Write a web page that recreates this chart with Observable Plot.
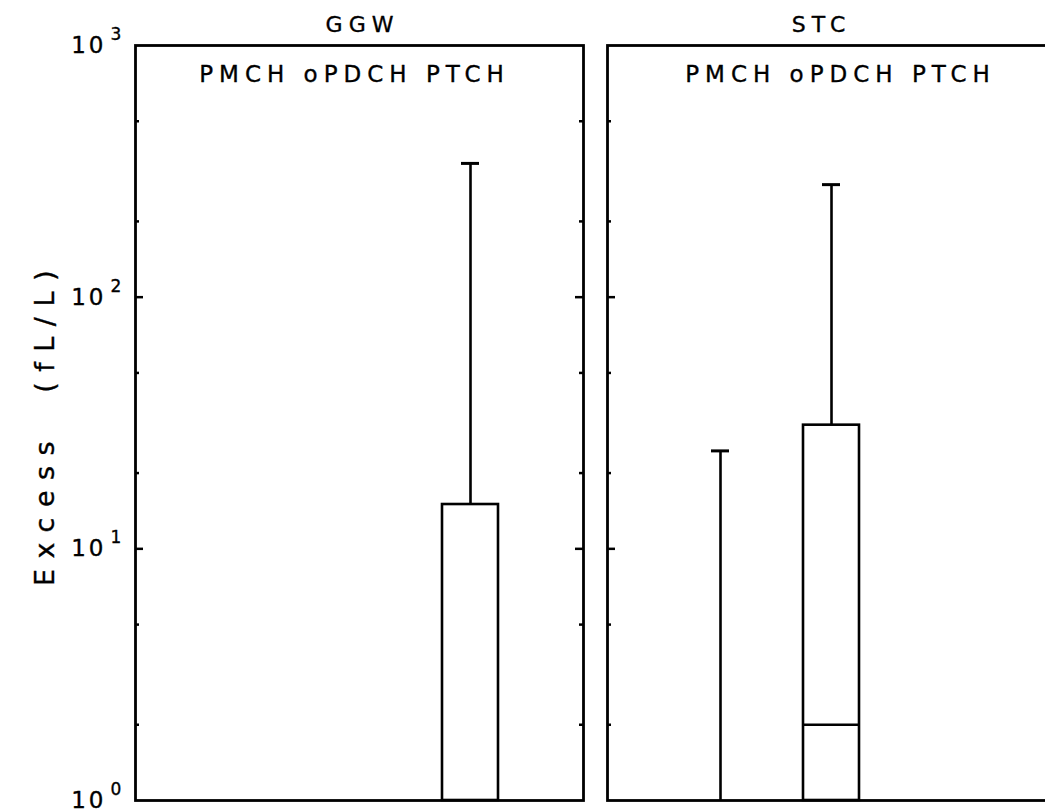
<!DOCTYPE html>
<html>
<head>
<meta charset="utf-8">
<script src="https://cdn.jsdelivr.net/npm/d3@7"></script>
<script src="https://cdn.jsdelivr.net/npm/@observablehq/plot@0.6"></script>
<style>
  html, body { margin: 0; padding: 0; background: #fff; overflow: hidden; }
</style>
</head>
<body>
<div id="chart"></div>
<script>
// ---- data ----
const sites = ["GGW", "STC"];
const species = ["PMCH", "oPDCH", "PTCH"];
const speciesLabel = "PMCH oPDCH PTCH";
const yLabel = "Excess  (fL/L)";

// one entry per drawn box/whisker
const boxSite    = ["GGW", "STC", "STC"];
const boxSpecies = ["PTCH", "PMCH", "oPDCH"];
const boxBottom  = [1, null, 1];      // lower quartile at/below the axis floor
const boxTop     = [15, null, 31];    // upper quartile
const boxMedian  = [null, null, 2];   // median line
const whiskerTop = [340, 24.5, 280];  // upper whisker

const majorTicks = [10, 100];
const minorTicks = [2, 5, 20, 50, 200, 500];
const decadeExps = [0, 1, 2, 3];

const rows = boxSite.map((s, i) => ({
  site: s, sp: boxSpecies[i], lo: boxBottom[i], hi: boxTop[i],
  med: boxMedian[i], wt: whiskerTop[i]
}));

const W = 1080, ML = 135, MR = 25;
const facetW = 448;
const gap = 24;
const pInner = gap / (facetW + gap);
const font = "DejaVu Sans";
const txt = {fontFamily: font, fill: "black", stroke: "black", strokeWidth: 0.35};

const plot = Plot.plot({
  width: W,
  height: 812,
  marginLeft: ML,
  marginRight: MR,
  marginTop: 45,
  marginBottom: 12,
  style: {maxWidth: "none", background: "#fff", color: "#000", fontFamily: font},
  fx: {domain: sites, paddingInner: pInner, paddingOuter: 0, axis: null},
  x: {domain: species, type: "band", paddingInner: 0.491, paddingOuter: 0.746, axis: null},
  y: {type: "log", domain: [1, 1000], axis: null},
  marks: [
    // boxes
    Plot.barY(rows.filter(d => d.hi != null), {
      fx: "site", x: "sp", y1: "lo", y2: "hi",
      fill: "white", stroke: "black", strokeWidth: 2.6
    }),
    // whiskers
    Plot.ruleX(rows, {
      fx: "site", x: "sp", y1: d => d.hi ?? 1, y2: "wt",
      stroke: "black", strokeWidth: 2.6
    }),
    // whisker caps
    Plot.tickY(rows, {
      fx: "site", x: "sp", y: "wt", insetLeft: 19, insetRight: 19,
      stroke: "black", strokeWidth: 3
    }),
    // medians
    Plot.tickY(rows.filter(d => d.med != null), {
      fx: "site", x: "sp", y: "med", stroke: "black", strokeWidth: 2.4
    }),
    // inward ticks, both sides of each panel
    Plot.ruleY(majorTicks, {y: d => d, insetRight: facetW - 8, stroke: "black", strokeWidth: 2.5}),
    Plot.ruleY(majorTicks, {y: d => d, insetLeft: facetW - 8, stroke: "black", strokeWidth: 2.5}),
    Plot.ruleY(minorTicks, {y: d => d, insetRight: facetW - 4, stroke: "black", strokeWidth: 2.5}),
    Plot.ruleY(minorTicks, {y: d => d, insetLeft: facetW - 4, stroke: "black", strokeWidth: 2.5}),
    Plot.frame({stroke: "black", strokeWidth: 2.8}),
    // y tick labels (leftmost panel only)
    Plot.text(decadeExps, {
      fx: () => sites[0], y: d => 10 ** d, text: () => "10",
      frameAnchor: "left", textAnchor: "end", dx: -29, dy: 0,
      fontSize: 23, ...txt
    }),
    Plot.text(decadeExps, {
      fx: () => sites[0], y: d => 10 ** d, text: d => String(d),
      frameAnchor: "left", textAnchor: "start", dx: -25, dy: -11,
      fontSize: 17, ...txt
    }),
    // y axis label
    Plot.text([yLabel], {
      fx: () => sites[0], text: d => d, frameAnchor: "left", rotate: -90,
      textAnchor: "middle", lineAnchor: "middle", dx: -90, dy: 0,
      fontSize: 27, ...txt
    }),
    // panel titles
    Plot.text([sites[0]], {
      fx: d => d, text: d => d, frameAnchor: "top", lineAnchor: "middle",
      dy: -21, dx: 3, fontSize: 22, ...txt
    }),
    Plot.text([sites[1]], {
      fx: d => d, text: d => d, frameAnchor: "top", lineAnchor: "middle",
      dy: -21, dx: -10, fontSize: 22, ...txt
    }),
    // species labels inside panels
    Plot.text([sites[0]], {
      fx: d => d, text: () => speciesLabel, frameAnchor: "top", lineAnchor: "middle",
      dy: 29, dx: -5, fontSize: 23, ...txt
    }),
    Plot.text([sites[1]], {
      fx: d => d, text: () => speciesLabel, frameAnchor: "top", lineAnchor: "middle",
      dy: 29, dx: 9, fontSize: 23, ...txt
    })
  ]
});

document.getElementById("chart").appendChild(plot);
const spacing = t => {
  if (t === speciesLabel) return "6px";
  if (t === yLabel) return "10.5px";
  if (sites.includes(t)) return "6px";
  if (t === "10") return "3px";
  return null;
};
d3.select(plot).selectAll("text").each(function () {
  const s = spacing(this.textContent);
  if (s) this.style.letterSpacing = s;
});
</script>
</body>
</html>
